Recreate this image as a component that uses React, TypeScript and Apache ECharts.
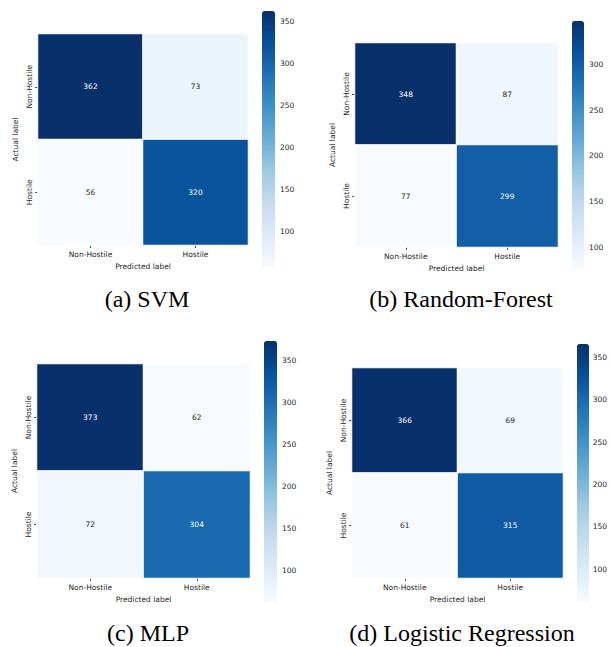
import React, { useEffect, useRef } from 'react';
import * as echarts from 'echarts';

const classes = ['Non-Hostile', 'Hostile'];
const svmValues = [[362, 73], [56, 320]];
const rfValues = [[348, 87], [77, 299]];
const mlpValues = [[373, 62], [72, 304]];
const lrValues = [[366, 69], [61, 315]];
const captions = ['(a) SVM', '(b) Random-Forest', '(c) MLP', '(d) Logistic Regression'];
const svmTicks = [100, 150, 200, 250, 300, 350];
const rfTicks = [100, 150, 200, 250, 300];
const mlpTicks = [100, 150, 200, 250, 300, 350];
const lrTicks = [100, 150, 200, 250, 300, 350];

const blues = ['#f7fbff', '#deebf7', '#c6dbef', '#9ecae1', '#6baed6', '#4292c6', '#2171b5', '#08519c', '#08306b'];

const layouts = [
  { grid: { left: 38, top: 34, width: 210, height: 211 }, cb: { left: 262, top: 11, width: 13, height: 257 }, cap: { x: 147, y: 299 } },
  { grid: { left: 355, top: 43, width: 203, height: 204 }, cb: { left: 572, top: 21, width: 12, height: 247 }, cap: { x: 461, y: 299 } },
  { grid: { left: 37, top: 364, width: 213, height: 214 }, cb: { left: 264, top: 341, width: 13, height: 261 }, cap: { x: 148, y: 633 } },
  { grid: { left: 352, top: 368, width: 211, height: 210 }, cb: { left: 577, top: 344, width: 12, height: 258 }, cap: { x: 462, y: 633 } },
];

const FONT = 'DejaVu Sans';
const TXT = '#262626';
const FS = 7.5;

export default function App() {
  const ref = useRef<HTMLDivElement>(null);
  useEffect(() => {
    if (!ref.current) return;
    const chart = echarts.init(ref.current, null, { renderer: 'svg' });
    const panels = [
      { values: svmValues, ticks: svmTicks },
      { values: rfValues, ticks: rfTicks },
      { values: mlpValues, ticks: mlpTicks },
      { values: lrValues, ticks: lrTicks },
    ];
    const grid: any[] = [];
    const xAxis: any[] = [];
    const yAxis: any[] = [];
    const series: any[] = [];
    const visualMap: any[] = [];
    const graphic: any[] = [];
    panels.forEach((p, i) => {
      const L = layouts[i];
      const flat = p.values.flat();
      const vmin = Math.min(...flat);
      const vmax = Math.max(...flat);
      grid.push({ ...L.grid, containLabel: false });
      grid.push({ ...L.cb, containLabel: false });
      xAxis.push({
        type: 'category', gridIndex: 2 * i, data: classes,
        axisLine: { show: false },
        axisTick: { show: true, alignWithLabel: true, length: 3, lineStyle: { color: TXT, width: 0.8 } },
        axisLabel: { fontSize: FS, color: TXT, margin: 5, fontFamily: FONT },
        splitLine: { show: false },
        name: 'Predicted label', nameLocation: 'middle', nameGap: 17,
        nameTextStyle: { fontSize: FS, color: TXT, fontFamily: FONT },
      });
      xAxis.push({ type: 'value', gridIndex: 2 * i + 1, show: false, min: 0, max: 1 });
      yAxis.push({
        type: 'category', gridIndex: 2 * i, data: classes, inverse: true,
        axisLine: { show: false },
        axisTick: { show: true, alignWithLabel: true, length: 3, lineStyle: { color: TXT, width: 0.8 } },
        axisLabel: { fontSize: FS, color: TXT, margin: 5, rotate: 90, fontFamily: FONT },
        splitLine: { show: false },
        name: 'Actual label', nameLocation: 'middle', nameGap: 19, nameRotate: 90,
        nameTextStyle: { fontSize: FS, color: TXT, fontFamily: FONT },
      });
      yAxis.push({
        type: 'value', gridIndex: 2 * i + 1, position: 'right', min: vmin, max: vmax,
        axisLine: { show: false },
        splitLine: { show: false },
        axisTick: { show: true, length: 3, customValues: p.ticks, lineStyle: { color: TXT, width: 0.8 } },
        axisLabel: { show: true, customValues: p.ticks, fontSize: FS, color: TXT, margin: 5, fontFamily: FONT },
      });
      const data: any[] = [];
      p.values.forEach((row, r) => {
        row.forEach((v, c) => {
          data.push({
            value: [c, r, v],
            label: { color: v > (vmin + vmax) / 2 ? '#ffffff' : TXT },
          });
        });
      });
      series.push({
        type: 'heatmap', xAxisIndex: 2 * i, yAxisIndex: 2 * i, data,
        label: { show: true, fontSize: FS, fontFamily: FONT },
        itemStyle: { borderColor: '#ffffff', borderWidth: 1 },
        emphasis: { disabled: true },
      });
      visualMap.push({
        type: 'continuous', seriesIndex: i, min: vmin, max: vmax,
        calculable: false, orient: 'vertical',
        left: L.cb.left, top: L.cb.top, itemWidth: L.cb.width, itemHeight: L.cb.height,
        padding: 0, inRange: { color: blues }, hoverLink: false,
      });
      graphic.push({
        type: 'text', x: L.cap.x, y: L.cap.y,
        style: { text: captions[i], fill: '#000', font: '24px "Liberation Serif"', align: 'center', verticalAlign: 'middle' },
      });
    });
    chart.setOption({
      animation: false,
      backgroundColor: '#ffffff',
      grid, xAxis, yAxis, series, visualMap, graphic,
    });
    return () => chart.dispose();
  }, []);
  return <div ref={ref} style={{ position: 'absolute', left: 0, top: 0, width: 610, height: 647 }} />;
}
